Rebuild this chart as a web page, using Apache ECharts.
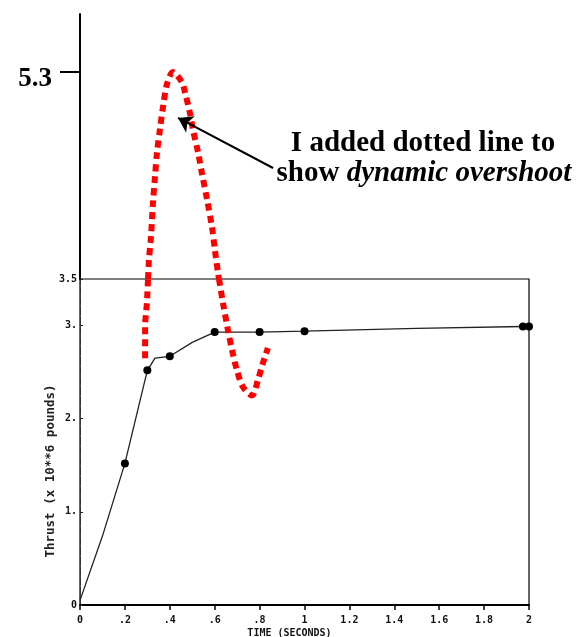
<!DOCTYPE html>
<html>
<head>
<meta charset="utf-8">
<script src="https://cdn.jsdelivr.net/npm/echarts@6/dist/echarts.min.js"></script>
<style>html,body{margin:0;padding:0;background:#fff}#c{width:584px;height:637px}</style>
</head>
<body>
<div id="c"></div>
<script>
// ---- data ----
const timeS      = [0, 0.1, 0.2, 0.3, 0.334, 0.4, 0.5, 0.6, 0.8, 1.0, 1.5, 1.973, 2.0];
const thrust     = [0.05, 0.74, 1.52, 2.52, 2.65, 2.67, 2.82, 2.93, 2.93, 2.94, 2.97, 2.99, 2.99];
const hasMarker  = [0, 0, 1, 1, 0, 1, 0, 1, 1, 1, 0, 1, 1];

// red dotted overshoot sketch: rising part (main scale), peak (annotation scale), falling part (main scale)
const redRiseT = [0.290, 0.290, 0.290, 0.298, 0.303];
const redRiseV = [2.65, 2.77, 3.03, 3.24, 3.5];
const redPeakT = [0.303, 0.307, 0.316, 0.325, 0.334, 0.343, 0.356, 0.370, 0.388, 0.414, 0.454, 0.468, 0.490, 0.503, 0.526, 0.543, 0.566, 0.588, 0.601, 0.615, 0.619];
const redPeakV = [3.5, 3.665, 3.865, 4.16, 4.39, 4.60, 4.80, 5.00, 5.20, 5.30, 5.21, 5.12, 4.94, 4.80, 4.60, 4.42, 4.19, 3.95, 3.75, 3.55, 3.5];
const redFallT = [0.619, 0.637, 0.659, 0.677, 0.699, 0.726, 0.766, 0.793, 0.815, 0.837];
const redFallV = [3.5, 3.24, 2.95, 2.74, 2.52, 2.34, 2.25, 2.42, 2.60, 2.76];

const xTicks = [0, 0.2, 0.4, 0.6, 0.8, 1, 1.2, 1.4, 1.6, 1.8, 2];
const yTicks = [0, 1, 2, 3, 3.5];
const peakTick = [5.3];
const arrowFrom = [0.86, 4.465];
const arrowTo = [0.437, 4.90];
const noteLine1 = 'I added dotted line to';
const noteLine2a = 'show ';
const noteLine2b = 'dynamic overshoot';

// ---- build ----
const zip = (a, b) => a.map((v, i) => [v, b[i]]);
const blackData = timeS.map((t, i) => ({ value: [t, thrust[i]], symbol: hasMarker[i] ? 'circle' : 'none' }));
const scanFont = '"DejaVu Sans Mono", monospace';
const redStyle = { color: '#ff0000', width: 6, type: [7, 5], cap: 'butt' };

const chart = echarts.init(document.getElementById('c'), null, { renderer: 'canvas' });
chart.setOption({
  animation: false,
  backgroundColor: '#fff',
  grid: [
    { left: 80, width: 449, top: 279, height: 326, show: true, borderColor: '#000', borderWidth: 1.2, backgroundColor: 'transparent', containLabel: false, outerBoundsMode: 'none' },
    { left: 80, width: 449, top: 14, height: 265, show: false, containLabel: false, outerBoundsMode: 'none' }
  ],
  xAxis: [
    {
      gridIndex: 0, type: 'value', min: 0, max: 2, interval: 0.2,
      axisLine: { show: true, lineStyle: { color: '#000', width: 2 } },
      axisTick: { show: true, length: 5, lineStyle: { color: '#000', width: 1.5 }, customValues: xTicks },
      axisLabel: {
        customValues: xTicks, margin: 10, color: '#111', fontFamily: scanFont, fontWeight: 'bold', fontSize: 10,
        formatter: v => v === 0 ? '0' : (v < 1 ? String(+v.toFixed(1)).replace(/^0/, '') : String(+v.toFixed(1)))
      },
      splitLine: { show: false },
      name: 'TIME (SECONDS)', nameLocation: 'middle', nameGap: 23, nameMoveOverlap: false,
      nameTextStyle: { color: '#111', fontFamily: scanFont, fontWeight: 'bold', fontSize: 10, padding: [0, 30, 0, 0] }
    },
    { gridIndex: 1, type: 'value', min: 0, max: 2, show: false }
  ],
  yAxis: [
    {
      gridIndex: 0, type: 'value', min: 0, max: 3.5,
      axisLine: { show: true, lineStyle: { color: '#333', width: 1, type: [8, 2] } },
      axisTick: { show: true, length: 3, inside: true, customValues: yTicks, lineStyle: { color: '#222' } },
      axisLabel: {
        customValues: yTicks, margin: 3, color: '#111', fontFamily: scanFont, fontWeight: 'bold', fontSize: 10,
        formatter: v => v === 0 ? '0' : (v === 3.5 ? '3.5' : v + '.')
      },
      splitLine: { show: false },
      name: 'Thrust (x 10**6 pounds)', nameLocation: 'middle', nameRotate: 90, nameGap: 23, nameMoveOverlap: false,
      nameTextStyle: { color: '#222', fontFamily: scanFont, fontWeight: 'bold', fontSize: 12.5, padding: [0, 58, 0, 0] }
    },
    {
      gridIndex: 1, type: 'value', min: 3.5, max: 5.804,
      axisLine: { show: true, lineStyle: { color: '#000', width: 2 } },
      axisTick: { show: true, length: 20, customValues: peakTick, lineStyle: { color: '#000', width: 2 } },
      axisLabel: {
        customValues: peakTick, margin: 28, color: '#000', fontFamily: '"Liberation Serif", serif',
        fontWeight: 'bold', fontSize: 27, verticalAlign: 'top', lineHeight: 15, formatter: v => v.toFixed(1)
      },
      splitLine: { show: false }
    }
  ],
  graphic: [
    { type: 'text', x: 423, y: 144, style: { text: noteLine1, fill: '#000', font: 'bold 29px "Liberation Serif", serif', align: 'center', verticalAlign: 'middle' } },
    { type: 'text', x: 424, y: 174, style: {
      text: '{a|' + noteLine2a + '}{b|' + noteLine2b + '}', align: 'center', verticalAlign: 'middle',
      rich: {
        a: { fill: '#000', font: 'bold 29px "Liberation Serif", serif' },
        b: { fill: '#000', font: 'italic bold 29px "Liberation Serif", serif' }
      }
    } }
  ],
  series: [
    {
      type: 'line', xAxisIndex: 0, yAxisIndex: 0, data: blackData, symbolSize: 8,
      itemStyle: { color: '#000' }, lineStyle: { color: '#222', width: 1.3 }, z: 3
    },
    { type: 'line', xAxisIndex: 0, yAxisIndex: 0, data: zip(redRiseT, redRiseV), symbol: 'none', lineStyle: redStyle, z: 4 },
    { type: 'line', xAxisIndex: 0, yAxisIndex: 0, data: zip(redFallT, redFallV), symbol: 'none', lineStyle: redStyle, smooth: 0.3, z: 4 },
    {
      type: 'line', xAxisIndex: 1, yAxisIndex: 1, data: zip(redPeakT, redPeakV), symbol: 'none', lineStyle: redStyle, smooth: 0.3, z: 4,
      markLine: {
        silent: true, symbol: ['none', 'arrow'], symbolSize: 14, label: { show: false },
        lineStyle: { color: '#000', width: 2, type: 'solid' },
        data: [[{ coord: arrowFrom }, { coord: arrowTo }]]
      }
    }
  ]
});
</script>
</body>
</html>
